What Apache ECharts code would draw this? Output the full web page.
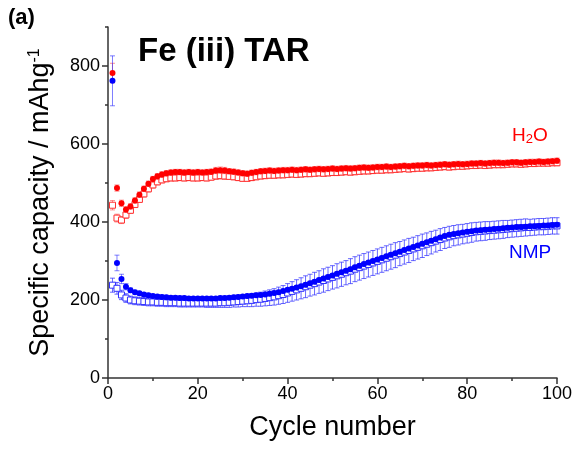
<!DOCTYPE html>
<html><head><meta charset="utf-8">
<script src="https://cdn.jsdelivr.net/npm/echarts@6/dist/echarts.min.js"></script>
<style>html,body{margin:0;padding:0;background:#fff}#c{width:576px;height:450px}</style>
</head><body><div id="c"></div>
<script>
// H2O: filled circles
const h2oDis = [782,487,448,432,440,455,470,485,498,510,
517,522,525,527,528,528,527,528,527,528,
527,528,529,532,533,532,530,529,527,525,
524,526,528,530,531,532,531,532,533,533,
534,533,534,535,534,535,536,535,536,537,
536,537,538,537,538,539,540,539,540,541,
541,542,541,542,543,544,543,544,545,545,
546,545,546,547,548,547,548,549,548,549,
550,550,551,550,551,552,552,551,552,553,
553,552,553,554,554,555,554,555,556,557];
const h2oDisErr = [25,8,8,7,7,7,7,7,7,7,
7,7,7,7,7,7,7,7,7,7,
7,7,7,8,8,8,7,7,7,7,
7,7,7,7,7,7,7,7,7,7,
7,7,7,7,7,7,7,7,7,7,
7,7,7,7,7,7,7,7,7,7,
7,7,7,7,7,7,7,7,7,7,
7,7,7,7,7,7,7,7,7,7,
7,7,7,7,7,7,7,7,7,7,
7,7,7,7,7,7,7,7,7,7];
// H2O: open squares
const h2oCha = [443,410,405,418,430,445,458,472,485,495,
503,508,511,513,513,514,513,514,513,513,
514,513,515,518,519,518,517,516,514,512,
512,514,516,518,519,520,520,521,521,522,
523,522,523,524,524,525,526,525,526,527,
527,528,529,528,529,530,531,531,532,533,
533,534,534,535,536,537,536,537,538,538,
539,539,540,541,542,541,542,543,543,544,
545,545,546,545,546,547,547,547,548,549,
549,548,549,550,550,551,551,551,552,552];
const h2oChaErr = [12,10,9,9,8,8,8,8,8,8,
8,8,8,8,8,8,8,8,8,8,
8,8,8,9,9,9,8,8,8,8,
8,8,8,8,8,8,8,8,8,8,
8,8,8,8,8,8,8,8,8,8,
8,8,8,8,8,8,8,8,8,8,
8,8,8,8,8,8,8,8,8,8,
8,8,8,8,8,8,8,8,8,8,
8,8,8,8,8,8,8,8,8,8,
8,8,8,8,8,8,8,8,8,8];
// NMP: filled circles
const nmpDis = [762,295,254,234,225,220,217,214,212,210,
209,208,207,206,206,205,205,204,204,204,
204,204,204,204,205,205,206,207,208,209,
210,211,212,213,214,216,218,220,223,226,
229,232,235,239,243,247,251,255,259,263,
267,271,275,279,284,288,292,296,300,304,
308,312,316,320,324,328,332,336,340,344,
348,352,356,360,364,367,369,371,373,375,
376,378,379,380,381,382,383,384,385,386,
387,387,388,389,389,390,391,391,392,393];
const nmpDisErr = [64,20,12,8,6,5,5,5,5,5,
5,5,5,5,5,5,5,5,5,5,
5,5,5,5,5,5,5,5,5,5,
5,5,5,5,5,5,5,5,5,5,
5,5,5,5,5,5,5,5,5,5,
5,5,5,5,5,5,5,5,5,5,
5,5,5,5,5,5,5,5,5,5,
5,5,5,5,5,5,5,5,5,5,
5,5,5,5,5,5,5,5,5,5,
5,5,5,5,5,5,5,5,5,5];
// NMP: open squares
const nmpCha = [238,230,213,205,200,198,197,196,195,195,
194,194,193,193,193,192,192,192,192,192,
192,192,192,192,193,193,194,195,196,197,
198,199,201,202,204,206,208,211,214,218,
222,226,230,234,238,242,246,250,254,258,
262,266,270,274,279,283,287,291,295,299,
303,307,311,315,319,323,327,331,335,339,
343,347,351,355,359,362,365,367,369,371,
373,375,376,377,378,379,380,381,382,383,
384,385,386,386,387,388,388,389,390,390];
const nmpChaErr = [18,15,12,11,10,10,10,10,10,10,
10,10,10,10,10,10,10,10,10,10,
10,11,11,11,12,12,13,13,14,14,
15,16,17,18,19,20,21,22,23,24,
25,26,27,28,28,29,29,30,30,30,
31,31,31,32,32,32,32,32,32,32,
32,32,32,32,31,31,31,30,30,30,
29,29,28,28,27,27,26,26,25,25,
25,24,24,24,23,23,23,23,22,22,
22,22,22,21,21,21,21,21,21,21];
const cycles = h2oDis.map((_, i) => i + 1);
const yMajorTicks = [0, 200, 400, 600, 800];
const yMinorTicks = [100, 300, 500, 700, 900];

const FONT = '"Liberation Sans", Arial, sans-serif';
const RED = '#ff0000', BLUE = '#0000ff';

function pts(vals) { return cycles.map((c, i) => [c, vals[i]]); }
function errSeries(vals, errs, color, capW, z) {
  return {
    type: 'custom', z: z, silent: true, clip: false,
    data: cycles.map((c, i) => [c, vals[i] - errs[i], vals[i] + errs[i]]),
    encode: { x: 0, y: [1, 2] },
    renderItem(params, api) {
      const x = api.value(0);
      const lo = api.coord([x, api.value(1)]);
      const hi = api.coord([x, api.value(2)]);
      const st = { stroke: color, lineWidth: 1 };
      return { type: 'group', children: [
        { type: 'line', shape: { x1: lo[0], y1: lo[1], x2: hi[0], y2: hi[1] }, style: st },
        { type: 'line', shape: { x1: lo[0] - capW, y1: lo[1], x2: lo[0] + capW, y2: lo[1] }, style: st },
        { type: 'line', shape: { x1: hi[0] - capW, y1: hi[1], x2: hi[0] + capW, y2: hi[1] }, style: st }
      ]};
    }
  };
}
function squares(vals, color, z) {
  return { type: 'scatter', z: z, silent: true, symbol: 'rect', symbolSize: 6,
    itemStyle: { color: '#ffffff', borderColor: color, borderWidth: 1, opacity: 1 },
    data: pts(vals) };
}
function circles(vals, color, z) {
  return { type: 'scatter', z: z, silent: true, symbol: 'circle', symbolSize: 6,
    itemStyle: { color: color, opacity: 1 }, data: pts(vals) };
}

const axisLineStyle = { color: '#333333', width: 1.5 };
const chart = echarts.init(document.getElementById('c'));
chart.setOption({
  animation: false,
  backgroundColor: '#ffffff',
  textStyle: { fontFamily: FONT },
  grid: { left: 108, right: 19, top: 27, bottom: 72 },
  xAxis: {
    type: 'value', min: 0, max: 100, interval: 20,
    name: 'Cycle number', nameLocation: 'middle', nameGap: 36,
    nameTextStyle: { fontFamily: FONT, fontSize: 27, color: '#000' },
    axisLine: { onZero: false, lineStyle: axisLineStyle },
    axisTick: { show: true, length: 6, lineStyle: axisLineStyle },
    minorTick: { show: true, splitNumber: 2, length: 3, lineStyle: axisLineStyle },
    axisLabel: { fontFamily: FONT, fontSize: 18, color: '#000', margin: 7 },
    splitLine: { show: false }
  },
  yAxis: [{
    type: 'value', min: 0, max: 900, interval: 100, position: 'left',
    name: 'Specific capacity / mAhg{sup|-1}', nameLocation: 'middle', nameGap: 53, nameRotate: 90,
    nameTextStyle: { fontFamily: FONT, fontSize: 27, color: '#000',
      rich: { sup: { fontFamily: FONT, fontSize: 16, color: '#000', verticalAlign: 'top', padding: [0, 0, 12, 0] } } },
    axisLine: { onZero: false, lineStyle: axisLineStyle },
    axisTick: { show: true, length: 6, lineStyle: axisLineStyle, customValues: yMajorTicks },
    axisLabel: { fontFamily: FONT, fontSize: 18, color: '#000', margin: 8, customValues: yMajorTicks },
    splitLine: { show: false }
  }, {
    type: 'value', min: 0, max: 900, interval: 100, position: 'left',
    axisLine: { show: false },
    axisTick: { show: true, length: 3, lineStyle: axisLineStyle, customValues: yMinorTicks },
    axisLabel: { show: false },
    splitLine: { show: false }
  }],
  series: [
    errSeries(h2oCha, h2oChaErr, 'rgba(255,40,40,0.5)', 2.5, 1),
    errSeries(nmpCha, nmpChaErr, 'rgba(40,40,255,0.7)', 2.5, 1),
    squares(h2oCha, '#ff3030', 2),
    squares(nmpCha, '#3030ff', 2),
    errSeries(h2oDis, h2oDisErr, 'rgba(255,40,40,0.5)', 2.5, 3),
    errSeries(nmpDis, nmpDisErr, 'rgba(40,40,255,0.6)', 2.5, 3),
    circles(h2oDis, RED, 4),
    circles(nmpDis, BLUE, 4)
  ],
  graphic: [
    { type: 'text', left: 8, top: 7, style: { text: '(a)', font: 'bold 22px ' + FONT, fill: '#000' } },
    { type: 'text', left: 138, top: 35, style: { text: 'Fe (iii) TAR', font: 'bold 33px ' + FONT, fill: '#000' } },
    { type: 'text', left: 512, top: 126, style: { text: 'H{sub|2}O', font: '19px ' + FONT, fill: RED,
        rich: { sub: { fontSize: 13, fill: RED, fontFamily: FONT, verticalAlign: 'bottom', padding: [8, 0, 0, 0] } } } },
    { type: 'text', left: 509, top: 243, style: { text: 'NMP', font: '19px ' + FONT, fill: BLUE } }
  ]
});
</script>
</body></html>
